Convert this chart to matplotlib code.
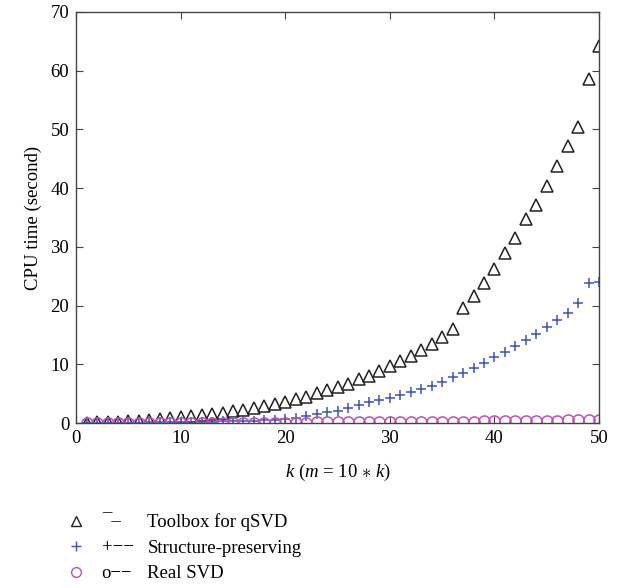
import matplotlib
matplotlib.use("Agg")
import numpy as np
import matplotlib.pyplot as plt
from matplotlib.lines import Line2D

plt.rcParams['font.family'] = ['Liberation Serif', 'DejaVu Serif']
plt.rcParams['mathtext.fontset'] = 'custom'
plt.rcParams['mathtext.it'] = 'Liberation Serif:italic'
plt.rcParams['mathtext.rm'] = 'Liberation Serif'

# data
k = np.arange(1, 51)
toolbox = [0.05, 0.1, 0.15, 0.2, 0.3, 0.4, 0.5, 0.6, 0.8, 1.0,
           1.2, 1.4, 1.5, 1.7, 2.0, 2.2, 2.6, 2.9, 3.2, 3.6,
           4.1, 4.4, 5.1, 5.6, 6.1, 6.6, 7.5, 8.0, 8.9, 9.7,
           10.6, 11.4, 12.4, 13.5, 14.7, 16.0, 19.6, 21.6, 23.9, 26.2,
           29.0, 31.5, 34.8, 37.1, 40.3, 43.7, 47.2, 50.4, 58.6, 64.2]
structure = [0.02, 0.03, 0.04, 0.05, 0.06, 0.08, 0.1, 0.12, 0.15, 0.18,
             0.2, 0.22, 0.25, 0.28, 0.3, 0.35, 0.4, 0.45, 0.55, 0.7,
             0.9, 1.2, 1.5, 1.8, 2.1, 2.6, 3.1, 3.5, 3.9, 4.3,
             4.8, 5.3, 5.8, 6.3, 7.0, 7.8, 8.5, 9.4, 10.2, 11.2,
             12.1, 13.1, 14.1, 15.2, 16.4, 17.5, 18.8, 20.4, 23.8, 24.0]
real_svd = [0.01, 0.01, 0.01, 0.01, 0.01, 0.02, 0.02, 0.02, 0.02, 0.03,
            0.03, 0.03, 0.04, 0.04, 0.04, 0.05, 0.05, 0.06, 0.06, 0.07,
            0.08, 0.08, 0.09, 0.1, 0.1, 0.11, 0.12, 0.13, 0.14, 0.15,
            0.16, 0.17, 0.18, 0.19, 0.2, 0.22, 0.23, 0.25, 0.26, 0.28,
            0.3, 0.32, 0.34, 0.36, 0.38, 0.4, 0.43, 0.45, 0.48, 0.5]
labels = ["Toolbox for qSVD", "Structure-preserving", "Real SVD"]
samples = ["\u00af\u2013", "+\u2212\u2212", "o\u2212\u2212"]

blue = '#3d56b0'
magenta = '#c04fb4'
fs = 13.5

fig = plt.figure(figsize=(6.24, 5.88), dpi=100)
ax = fig.add_axes([0.122, 0.2806, 0.838, 0.699])

ax.plot(k, toolbox, ls='none', marker='^', ms=9, mfc='none', mec='#222222', mew=1.1)
ax.plot(k, structure, ls='none', marker='+', ms=7.5, mec=blue, mew=1.1)
ax.plot(k, real_svd, ls='none', marker='o', ms=8, mfc='none', mec=magenta, mew=1.1)

ax.set_xlim(0, 50)
ax.set_ylim(0, 70)
ax.set_xticks(range(0, 51, 10))
ax.set_yticks(range(0, 71, 10))
ax.tick_params(direction='in', top=True, right=True, labelsize=fs, length=5,
               color='#444444', pad=5)
for s in ax.spines.values():
    s.set_color('#444444')
    s.set_linewidth(1.0)
ax.set_xlabel(r'$k$ ($m$ = 10 $\ast$ $k$)', fontsize=fs, labelpad=11)
ax.set_ylabel('CPU time (second)', fontsize=fs, labelpad=6)

handles = [Line2D([], [], ls='none', marker='^', ms=6.5, mfc='none', mec='#222222', mew=1.0),
           Line2D([], [], ls='none', marker='+', ms=7, mec=blue, mew=1.0),
           Line2D([], [], ls='none', marker='o', ms=7, mfc='none', mec=magenta, mew=1.0)]
fig.legend(handles, labels, loc='upper left', bbox_to_anchor=(0.11, 0.127),
           frameon=False, fontsize=fs, handlelength=0.8, handletextpad=3.4,
           labelspacing=0.45, borderaxespad=0, borderpad=0)
for i, s in enumerate(samples):
    fig.text(0.163, 1 - (522 + i * 26) / 588, s, fontsize=fs, va='center')

fig.savefig('out.png', dpi=100)
